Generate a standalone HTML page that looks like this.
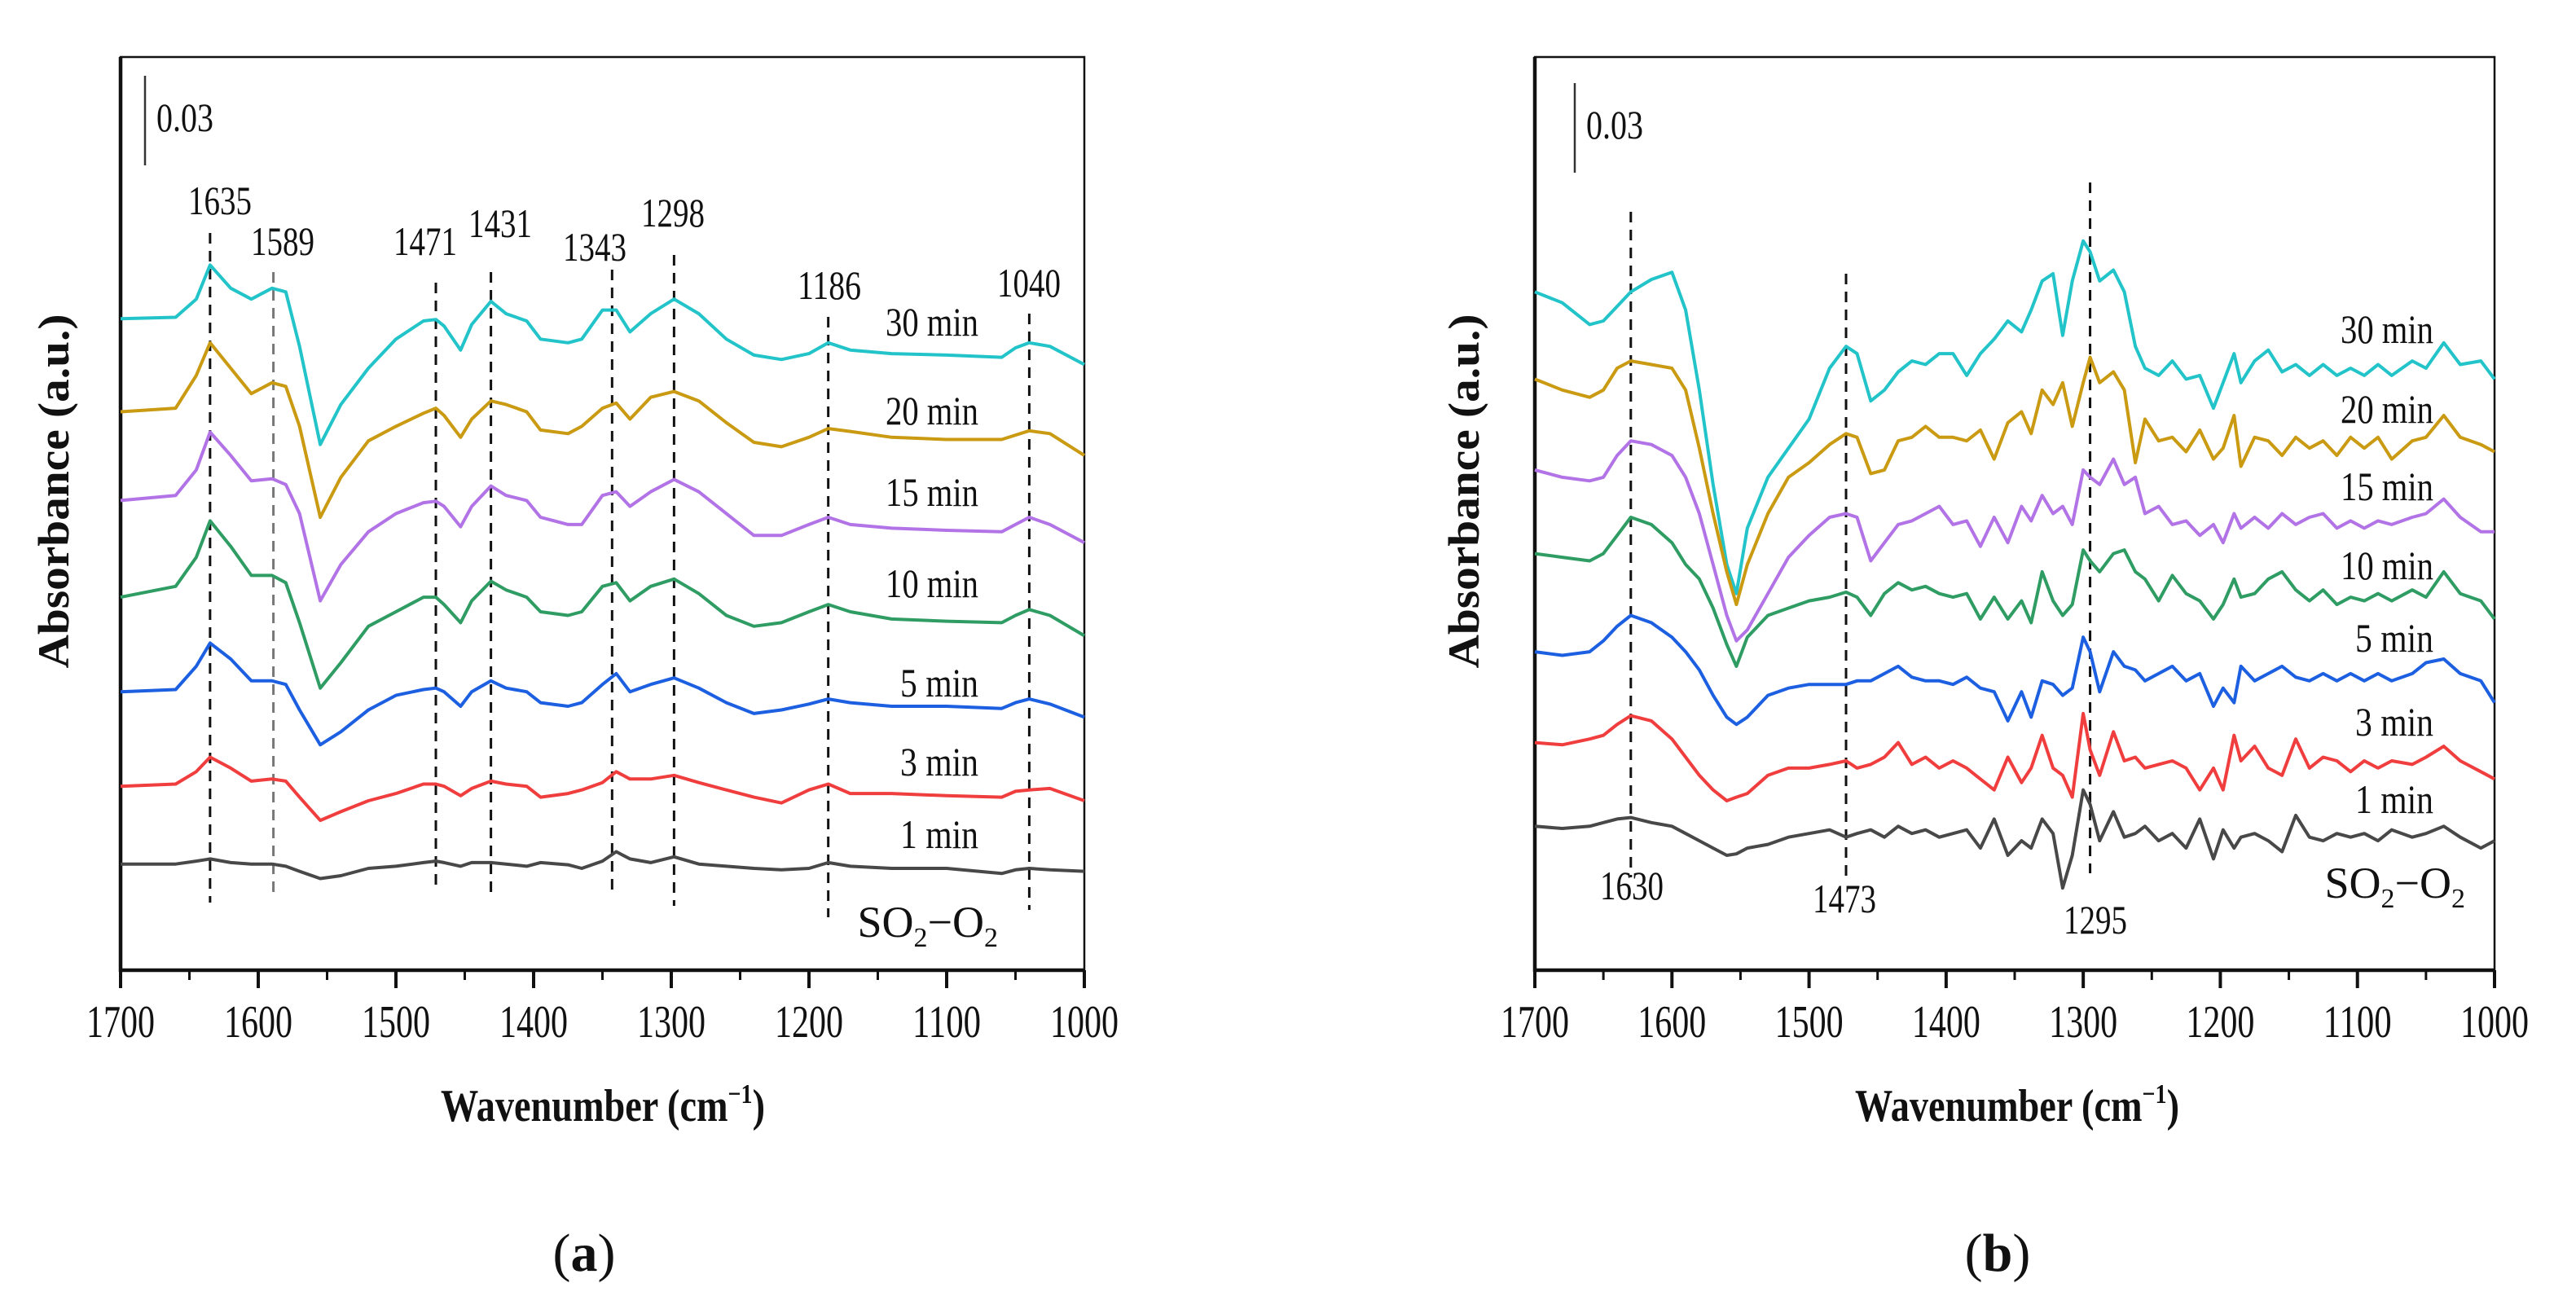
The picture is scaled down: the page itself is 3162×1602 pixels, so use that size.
<!DOCTYPE html>
<html><head><meta charset="utf-8">
<style>
html,body{margin:0;padding:0;background:#fff;}
svg{display:block;}
text{font-family:"Liberation Serif",serif;fill:#111;}
</style></head>
<body>
<svg id="fig" width="3162" height="1602" viewBox="0 0 3162 1602" xmlns="http://www.w3.org/2000/svg"></svg>
<script>
// ---------- data: panel (a) ----------
const wnA = [1700,1660,1645,1635,1620,1605,1590,1580,1570,1555,1540,1520,1500,1480,1471,1465,1453,1445,1431,1420,1405,1395,1375,1365,1350,1340,1330,1315,1298,1280,1260,1240,1220,1200,1186,1170,1140,1100,1060,1050,1040,1025,1000];
const a30 = [918,920,945,992,960,945,960,955,880,745,800,850,890,915,917,908,875,910,942,925,915,890,885,890,930,930,900,925,945,925,890,868,862,870,885,875,870,868,865,878,885,880,855];
const a20 = [790,795,840,885,850,815,830,825,770,645,700,750,770,788,795,785,755,780,805,800,790,765,760,770,795,802,780,810,818,805,775,748,742,755,767,763,755,752,752,758,764,760,730];
const a15 = [668,675,710,762,730,695,698,690,650,530,580,625,650,665,667,660,632,660,688,675,668,645,635,635,675,680,660,680,697,680,650,620,620,635,645,635,630,627,625,635,645,635,610];
const a10 = [535,550,590,640,605,565,565,555,500,410,445,495,515,535,535,525,500,530,557,545,535,515,510,515,550,555,530,550,560,540,510,495,500,515,525,515,505,502,500,510,518,510,482];
const a5 = [405,408,440,472,450,420,420,415,380,332,350,380,400,408,410,405,385,405,420,410,405,390,385,390,415,430,405,415,424,410,390,375,380,388,395,390,385,385,382,390,395,388,370];
const a3 = [275,278,295,315,300,282,285,282,260,228,240,255,265,278,278,275,262,272,282,278,275,260,265,270,280,295,285,285,290,280,270,260,252,270,278,265,265,262,260,268,270,272,255];
const a1 = [168,168,172,175,170,168,168,165,158,148,152,162,165,170,172,170,165,170,170,168,165,170,167,162,172,185,175,170,178,168,165,162,160,162,170,165,162,162,155,160,162,160,158];
const peaksA = [1635,1589,1471,1431,1343,1298,1186,1040];

// ---------- data: panel (b) ----------
const wnB = [1700,1680,1660,1650,1640,1630,1615,1600,1590,1580,1570,1560,1553,1545,1530,1515,1500,1485,1473,1465,1455,1445,1435,1425,1415,1405,1395,1385,1375,1365,1355,1345,1338,1330,1322,1315,1308,1300,1295,1288,1278,1270,1262,1255,1245,1235,1225,1215,1205,1198,1190,1185,1175,1165,1155,1145,1135,1125,1115,1105,1095,1085,1075,1060,1050,1037,1025,1010,1000];
const b30 = [955,940,910,915,935,955,972,982,930,820,690,580,540,630,700,740,780,850,880,870,805,820,845,860,855,870,870,840,870,890,915,900,930,970,980,895,970,1025,1010,970,985,955,880,850,840,860,835,840,795,830,870,830,860,875,845,855,840,855,840,850,840,855,840,860,850,885,855,860,835];
const b20 = [835,820,810,820,850,860,855,850,820,740,650,570,525,580,650,700,720,745,760,755,705,710,750,755,770,755,755,750,765,725,775,790,760,820,800,830,770,830,865,830,845,820,720,780,750,755,735,765,725,740,785,715,755,750,730,755,740,750,730,755,740,755,725,750,755,785,755,745,735];
const b15 = [710,700,695,700,730,750,745,730,700,650,580,510,475,490,540,590,620,645,650,645,585,610,635,640,650,660,635,640,605,645,610,660,640,675,650,660,635,710,700,690,725,690,700,650,660,635,640,620,635,610,650,630,645,630,650,635,645,650,630,640,630,640,635,645,650,670,645,625,625];
const b10 = [595,590,585,595,620,645,635,610,580,560,520,470,440,480,510,520,530,535,542,535,510,540,555,545,550,540,535,540,505,535,505,530,500,570,530,510,525,600,585,570,595,600,570,560,530,565,540,530,505,525,560,535,540,560,570,545,530,545,525,535,530,540,530,545,535,570,540,530,505];
const b5 = [460,455,460,475,495,510,500,480,460,435,400,370,360,370,400,410,415,415,415,420,420,430,440,425,420,420,415,425,410,405,365,405,370,420,415,400,410,480,460,405,460,440,435,420,430,440,420,430,385,410,390,440,420,430,440,425,420,430,420,430,420,430,420,430,445,450,430,420,390];
const b3 = [335,332,340,345,360,372,365,340,315,290,270,255,260,265,290,300,300,305,310,300,305,315,335,305,315,300,310,300,285,270,315,280,300,345,300,290,260,375,325,290,350,310,315,300,305,310,300,270,300,270,345,310,330,300,290,340,300,315,310,295,310,300,310,305,315,330,310,295,285];
const b1 = [220,217,220,225,230,232,225,220,210,200,190,180,182,190,195,205,210,215,205,210,215,205,220,210,215,205,210,215,190,230,180,200,190,230,210,135,180,270,250,200,240,205,210,220,200,210,190,230,175,215,190,205,210,200,185,235,205,200,210,205,210,200,215,205,210,220,205,190,200];
const peaksB = [1630,1473,1295];

const seriesLabels = ["30 min","20 min","15 min","10 min","5 min","3 min","1 min"];
const xTicks = [1700,1600,1500,1400,1300,1200,1100,1000];
const xMinorTicks = [1650,1550,1450,1350,1250,1150,1050];

const colors = ["#22c4c9","#c99a12","#b273e6","#2f9d63","#1c5fe0","#f03d3d","#484848"];
const svg = document.getElementById('fig');
const NS = "http://www.w3.org/2000/svg";
function mk(tag, attrs, parent){
  const e = document.createElementNS(NS, tag);
  for (const k in attrs) e.setAttribute(k, attrs[k]);
  (parent||svg).appendChild(e);
  return e;
}
function txt(parent, x, y, s, size, opts){
  opts = opts||{};
  const t = mk('text', {x:x, y:y, 'font-size':size, 'text-anchor':opts.anchor||'middle'}, parent);
  if (opts.len){ t.setAttribute('textLength', opts.len); t.setAttribute('lengthAdjust','spacingAndGlyphs'); }
  if (opts.weight) t.setAttribute('font-weight', opts.weight);
  if (opts.transform) t.setAttribute('transform', opts.transform);
  t.textContent = s;
  return t;
}

const TOP = 70, BOT = 1191;
function yScale(v){ return TOP + (1278 - v) * (BOT - TOP) / (1278 - 22); }

function panel(cfg){
  const L = cfg.left, R = cfg.right;
  const xScale = w => L + (1700 - w) / 700 * (R - L);
  const g = mk('g', {});
  
  

  // frame
  const fr = mk('rect', {x:L, y:TOP, width:R-L, height:BOT-TOP, fill:'none', stroke:'#111', 'stroke-width':2.5}, g);
  
  
  const la = mk('line', {x1:L, y1:TOP, x2:L, y2:BOT+2, stroke:'#111', 'stroke-width':4.5}, g);
  
  
  const ba = mk('line', {x1:L-2, y1:BOT, x2:R+1, y2:BOT, stroke:'#111', 'stroke-width':4.5}, g);
  
  

  // ticks
  xTicks.forEach(t => {
    const x = xScale(t);
    const tk = mk('line', {x1:x, y1:BOT, x2:x, y2:BOT+22, stroke:'#111', 'stroke-width':4}, g);
    
    
    const lb = txt(g, x, 1273, String(t), 56, {len:84});
    
    
  });
  xMinorTicks.forEach(t => {
    const x = xScale(t);
    const tk = mk('line', {x1:x, y1:BOT, x2:x, y2:BOT+12, stroke:'#111', 'stroke-width':3}, g);
    
    
  });

  // axis titles
  const xt = mk('text', {x:cfg.xTitleX, y:1376, 'font-size':56, 'font-weight':'bold', 'text-anchor':'middle', textLength:398, lengthAdjust:'spacingAndGlyphs'}, g);
  xt.innerHTML = 'Wavenumber (cm<tspan dy="-22" font-size="34">−1</tspan><tspan dy="22">)</tspan>';
  
  
  const yt = txt(g, 0, 0, 'Absorbance (a.u.)', 54, {weight:'bold', len:435, transform:`translate(${cfg.yTitleX},603) rotate(-90)`});
  
  

  // scale bar
  const sb = mk('line', {x1:cfg.sbX, y1:cfg.sbTop, x2:cfg.sbX, y2:cfg.sbTop+110, stroke:'#333', 'stroke-width':2.5}, g);
  
  
  const sbl = txt(g, cfg.sbX+14, cfg.sbTop+68, '0.03', 50, {anchor:'start', len:70});
  
  

  // dashed peak lines
  cfg.peaks.forEach((p,i) => {
    const x = xScale(p);
    const d = mk('line', {x1:x, y1:cfg.dashTop[i], x2:x, y2:cfg.dashBot[i], stroke:cfg.dashColor?cfg.dashColor[i]:'#111', 'stroke-width':3, 'stroke-dasharray':'13 9'}, g);
    
    
    const t = txt(g, cfg.peakLabelX[i], cfg.peakLabelY[i], String(p), 50, {len:78});
    
    
  });

  // series
  cfg.series.forEach((vals,i) => {
    const pts = vals.map((v,j) => xScale(cfg.wn[j]).toFixed(1) + ',' + yScale(v).toFixed(1)).join(' ');
    const pl = mk('polyline', {points:pts, fill:'none', stroke:colors[i], 'stroke-width':4, 'stroke-linejoin':'round'}, g);
    
    
    const t = txt(g, cfg.labelRight, cfg.labelY[i], seriesLabels[i], 50, {anchor:'end', len: seriesLabels[i].length===6?114:96});
    
    
  });
  const so = mk('text', {x:cfg.soRight, y:cfg.soY, 'font-size':54, 'text-anchor':'end'}, g);
  so.innerHTML = 'SO<tspan font-size="34" dy="12">2</tspan><tspan dy="-12">−O</tspan><tspan font-size="34" dy="12">2</tspan>';
  
  

  // caption
  const cap = mk('text', {x:cfg.capX, y:1560, 'font-size':66, 'text-anchor':'middle'}, g);
  cap.innerHTML = '(<tspan font-weight="bold">' + cfg.cap + '</tspan>)';
  
  
}

panel({
  name:'panel-a', left:148, right:1331, wn:wnA, series:[a30,a20,a15,a10,a5,a3,a1],
  peaks:peaksA,
  dashTop:[286,334,347,334,331,313,389,385],
  dashBot:[1108,1103,1090,1099,1099,1112,1126,1117],
  dashColor:['#111','#777','#111','#111','#111','#111','#111','#111'],
  peakLabelX:[270,347,522,614,730,826,1018,1263],
  peakLabelY:[263,313,313,291,320,278,367,364],
  labelRight:1201, labelY:[412,521,621,733,855,952,1041],
  soRight:1225, soY:1150,
  xTitleX:740, yTitleX:84, sbX:178, sbTop:93, cap:'a', capX:717
});
panel({
  name:'panel-b', left:1884, right:3062, wn:wnB, series:[b30,b20,b15,b10,b5,b3,b1],
  peaks:peaksB,
  dashTop:[260,336,224],
  dashBot:[1077,1081,1072],
  peakLabelX:[2003,2264,2572],
  peakLabelY:[1104,1120,1146],
  labelRight:2987, labelY:[421,519,614,711,800,903,998],
  soRight:3026, soY:1102,
  xTitleX:2476, yTitleX:1815, sbX:1933, sbTop:102, cap:'b', capX:2452
});
</script>
</body></html>
